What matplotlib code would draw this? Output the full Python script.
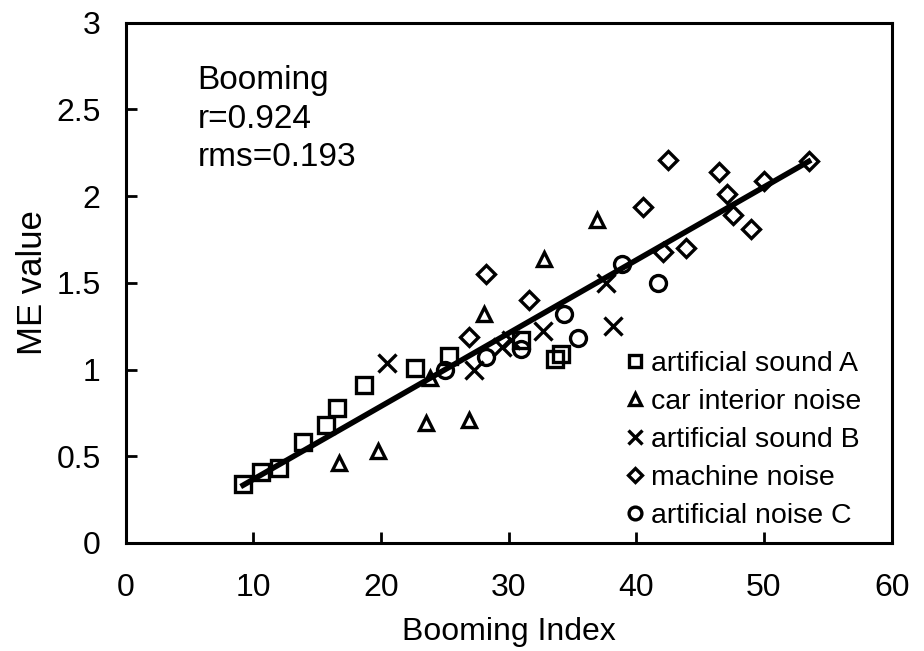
import matplotlib.pyplot as plt
import numpy as np
from matplotlib import font_manager

# Booming index vs. ME value, one array pair per sound group
sound_a_x = [9.2, 10.6, 12.0, 13.9, 15.7, 16.55, 18.7, 22.7, 25.3, 31.0, 33.6, 34.1]
sound_a_y = [0.34, 0.41, 0.43, 0.58, 0.68, 0.78, 0.91, 1.01, 1.08, 1.17, 1.06, 1.09]

car_x = [16.7, 19.75, 23.5, 23.8, 26.9, 28.1, 32.8, 36.9]
car_y = [0.46, 0.53, 0.69, 0.95, 0.71, 1.32, 1.64, 1.86]

sound_b_x = [20.5, 27.3, 29.5, 30.2, 32.7, 37.6, 38.2]
sound_b_y = [1.04, 1.00, 1.13, 1.17, 1.22, 1.50, 1.25]

machine_x = [26.9, 28.2, 31.6, 40.5, 42.1, 42.5, 43.9, 46.5, 47.1, 47.6, 49.0, 50.0, 53.5]
machine_y = [1.19, 1.55, 1.40, 1.94, 1.68, 2.21, 1.70, 2.14, 2.01, 1.89, 1.81, 2.09, 2.20]

noise_c_x = [25.0, 28.2, 31.0, 34.3, 35.4, 38.9, 41.7]
noise_c_y = [1.00, 1.07, 1.12, 1.32, 1.18, 1.61, 1.50]

x_ticks = [0, 10, 20, 30, 40, 50, 60]
y_ticks = [0, 0.5, 1, 1.5, 2, 2.5, 3]

names = {f.name for f in font_manager.fontManager.ttflist}
plt.rcParams["font.family"] = ["Liberation Sans" if "Liberation Sans" in names else "DejaVu Sans"]

fig = plt.figure(figsize=(9.24, 6.51), dpi=100)
ax = fig.add_axes([0.136, 0.166, 0.829, 0.799])

groups = [
    (sound_a_x, sound_a_y, "s", 11.5, "artificial sound A"),
    (car_x, car_y, "^", 10.5, "car interior noise"),
    (sound_b_x, sound_b_y, "x", 13, "artificial sound B"),
    (machine_x, machine_y, "D", 9, "machine noise"),
    (noise_c_x, noise_c_y, "o", 11.5, "artificial noise C"),
]
for gx, gy, mk, ms, label in groups:
    ax.plot(gx, gy, linestyle="none", marker=mk, markersize=ms,
            markerfacecolor="none", markeredgecolor="black",
            markeredgewidth=2.4, label=label, zorder=3)

# least-squares line over all groups
all_x = np.concatenate([g[0] for g in groups])
all_y = np.concatenate([g[1] for g in groups])
slope, intercept = np.polyfit(all_x, all_y, 1)
fit_x = np.array([all_x.min(), all_x.max()])
ax.plot(fit_x, slope * fit_x + intercept, color="black", linewidth=4, zorder=2)

ax.set_xlim(0, 60)
ax.set_ylim(0, 3)
ax.set_xticks(x_ticks)
ax.set_yticks(y_ticks)
ax.set_yticklabels([f"{v:g}" for v in y_ticks])
ax.tick_params(direction="in", length=8, width=2, labelsize=23)
ax.tick_params(axis="x", pad=22)
ax.tick_params(axis="y", pad=18)
for side in ax.spines.values():
    side.set_linewidth(2.2)

ax.set_xlabel("Booming Index", fontsize=23, labelpad=10)
ax.set_ylabel("ME value", fontsize=25, labelpad=5)

ax.text(0.094, 0.918, "Booming\nr=0.924\nrms=0.193", transform=ax.transAxes,
        fontsize=24, va="top", ha="left", linespacing=1.3)

ax.legend(loc="lower right", bbox_to_anchor=(0.986, -0.012), frameon=False,
          fontsize=20.5, markerscale=0.8, handlelength=0.6, handletextpad=0.25,
          labelspacing=0.42, borderpad=0.2)

fig.savefig("out.png", dpi=100)
